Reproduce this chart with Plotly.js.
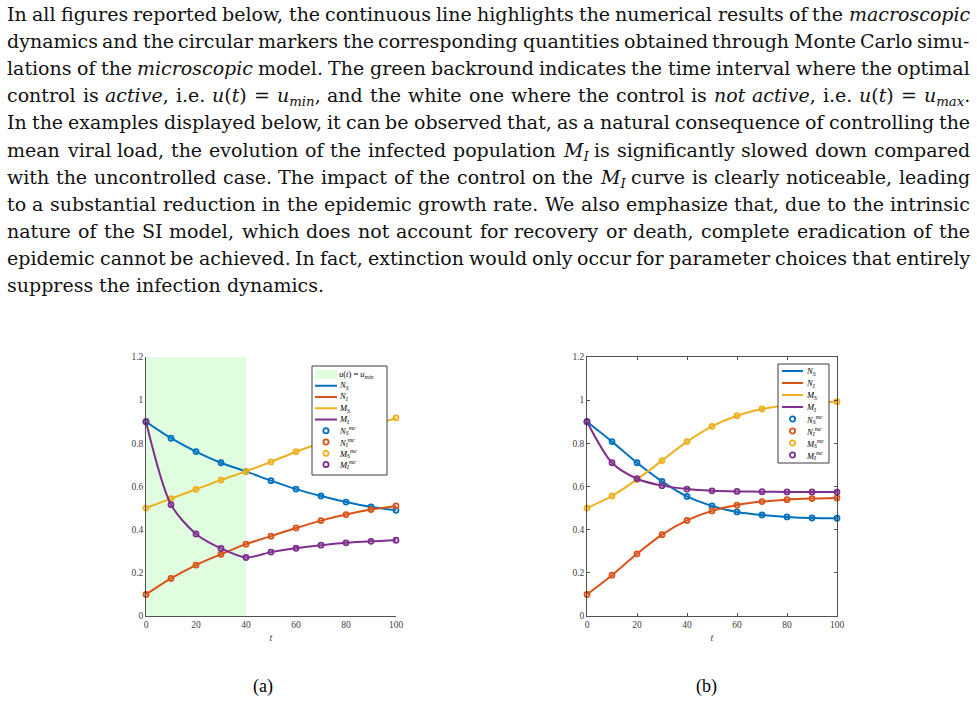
<!DOCTYPE html>
<html><head><meta charset="utf-8">
<script src="https://cdn.plot.ly/plotly-3.0.1.min.js"></script>
<style>html,body{margin:0;padding:0;background:#fff;} #chart{width:977px;height:701px;}</style>
</head><body><div id="chart"></div>
<script>
// ---------------- data ----------------
const t = [0, 10, 20, 30, 40, 50, 60, 70, 80, 90, 100];
// panel (a): controlled case
const aNS = [0.900, 0.824, 0.762, 0.710, 0.670, 0.627, 0.588, 0.556, 0.528, 0.505, 0.490];
const aNI = [0.100, 0.174, 0.236, 0.286, 0.333, 0.370, 0.408, 0.442, 0.470, 0.493, 0.510];
const aMS = [0.500, 0.544, 0.587, 0.630, 0.670, 0.714, 0.761, 0.803, 0.843, 0.881, 0.918];
const aMI = [0.900, 0.516, 0.380, 0.313, 0.271, 0.296, 0.314, 0.328, 0.339, 0.346, 0.351];
// panel (b)
const bNS = [0.900, 0.808, 0.710, 0.624, 0.554, 0.510, 0.482, 0.468, 0.459, 0.454, 0.453];
const bNI = [0.100, 0.189, 0.288, 0.377, 0.443, 0.487, 0.514, 0.530, 0.539, 0.544, 0.547];
const bMS = [0.500, 0.556, 0.633, 0.720, 0.808, 0.879, 0.928, 0.959, 0.978, 0.988, 0.993];
const bMI = [0.900, 0.710, 0.636, 0.604, 0.588, 0.580, 0.577, 0.576, 0.575, 0.575, 0.574];
const controlActive = [0, 40];           // interval where u(t) = u_min in (a)
const xTicks = [0, 20, 40, 60, 80, 100];
const yTicks = [0, 0.2, 0.4, 0.6, 0.8, 1, 1.2];
const yTickText = ['0', '0.2', '0.4', '0.6', '0.8', '1', '1.2'];
const lineLabels = ['<i>N<sub>S</sub></i>', '<i>N<sub>I</sub></i>', '<i>M<sub>S</sub></i>', '<i>M<sub>I</sub></i>'];
const mcLabels = ['<i>N<sub>S</sub><sup>mc</sup></i>', '<i>N<sub>I</sub><sup>mc</sup></i>', '<i>M<sub>S</sub><sup>mc</sup></i>', '<i>M<sub>I</sub><sup>mc</sup></i>'];
const patchLabel = '<i>u</i>(<i>t</i>) = <i>u<sub>min</sub></i>';
const captions = ['(a)', '(b)'];
const paraLines = [
  'In all figures reported below, the continuous line highlights the numerical results of the <i>macroscopic</i>',
  'dynamics and the circular markers the corresponding quantities obtained through Monte Carlo simu-',
  'lations of the <i>microscopic</i> model. The green backround indicates the time interval where the optimal',
  'control is <i>active</i>, i.e. <i>u</i>(<i>t</i>) = <i>u<sub>min</sub></i>, and the white one where the control is <i>not</i> <i>active</i>, i.e. <i>u</i>(<i>t</i>) = <i>u<sub>max</sub></i>.',
  'In the examples displayed below, it can be observed that, as a natural consequence of controlling the',
  'mean viral load, the evolution of the infected population <i>M<sub>I</sub></i> is significantly slowed down compared',
  'with the uncontrolled case. The impact of the control on the <i>M<sub>I</sub></i> curve is clearly noticeable, leading',
  'to a substantial reduction in the epidemic growth rate. We also emphasize that, due to the intrinsic',
  'nature of the SI model, which does not account for recovery or death, complete eradication of the',
  'epidemic cannot be achieved. In fact, extinction would only occur for parameter choices that entirely',
  'suppress the infection dynamics.'
];
const colors = ['#0072BD', '#D95319', '#EDB120', '#7E2F8E'];

// ---------------- helpers ----------------
const W = 977, H = 701;
const px = v => v / W;
const py = v => 1 - v / H;
const SERIF = 'Liberation Serif';
const PARA_FONT = 'DejaVu Serif';
const PARA_SIZE = 19;
const PARA_ASCENT = 0.93;
const ctx = document.createElement('canvas').getContext('2d');
function measure(tok, size, fam) {
  let w = 0, italic = false, small = false;
  for (const p of tok.split(/(<\/?(?:i|sub|sup)>)/)) {
    if (!p) continue;
    if (p === '<i>') { italic = true; continue; }
    if (p === '</i>') { italic = false; continue; }
    if (p === '<sub>' || p === '<sup>') { small = true; continue; }
    if (p === '</sub>' || p === '</sup>') { small = false; continue; }
    ctx.font = (italic ? 'italic ' : '') + (small ? size * 0.7 : size) + 'px "' + fam + '"';
    w += ctx.measureText(p).width;
  }
  return w;
}

const annotations = [];
const shapes = [];

// paragraph (justified, one annotation per word)
const LEFT = 7, RIGHT = 970, BASE0 = 20.7, LEAD = 27.1;
ctx.font = PARA_SIZE + 'px "' + PARA_FONT + '"';
const spaceW = ctx.measureText(' ').width;
paraLines.forEach((line, li) => {
  const words = line.split(' ');
  const widths = words.map(w => measure(w, PARA_SIZE, PARA_FONT));
  const total = widths.reduce((a, b) => a + b, 0);
  const justify = li < paraLines.length - 1;
  const gap = justify ? (RIGHT - LEFT - total) / (words.length - 1) : spaceW;
  const top = BASE0 + LEAD * li - PARA_ASCENT * PARA_SIZE;
  let x = LEFT;
  words.forEach((w, i) => {
    annotations.push({text: w, x: px(x), y: py(top), xref: 'paper', yref: 'paper',
      xanchor: 'left', yanchor: 'top', showarrow: false, borderpad: 0, borderwidth: 0,
      font: {family: PARA_FONT, size: PARA_SIZE, color: '#111'}});
    x += widths[i] + gap;
  });
});

// captions
[[263, 686], [706, 686]].forEach((p, i) => {
  annotations.push({text: captions[i], x: px(p[0]), y: py(p[1]), xref: 'paper', yref: 'paper',
    xanchor: 'center', yanchor: 'middle', showarrow: false, font: {family: SERIF, size: 18, color: '#000'}});
});

// in-plot legends
function buildLegend(box, row0, rowStep, sx0, sx1, tx, entries) {
  shapes.push({type: 'rect', xref: 'paper', yref: 'paper', x0: px(box[0]), x1: px(box[1]),
    y0: py(box[3]), y1: py(box[2]), fillcolor: '#fff', line: {color: '#262626', width: 0.9}, layer: 'above'});
  entries.forEach((e, i) => {
    const yc = row0 + rowStep * i;
    const cx = (sx0 + sx1) / 2;
    if (e.kind === 'patch') {
      shapes.push({type: 'rect', xref: 'paper', yref: 'paper', x0: px(sx0), x1: px(sx1),
        y0: py(yc + 4.5), y1: py(yc - 4.5), fillcolor: 'rgb(224,253,224)', line: {width: 0}, layer: 'above'});
    } else if (e.kind === 'line') {
      shapes.push({type: 'line', xref: 'paper', yref: 'paper', x0: px(sx0), x1: px(sx1),
        y0: py(yc), y1: py(yc), line: {color: e.color, width: 2}, layer: 'above'});
    } else {
      shapes.push({type: 'circle', xref: 'paper', yref: 'paper', x0: px(cx - 2.6), x1: px(cx + 2.6),
        y0: py(yc + 2.6), y1: py(yc - 2.6), fillcolor: 'rgba(255,255,255,0)', line: {color: e.color, width: 1.8}, layer: 'above'});
    }
    annotations.push({text: e.label, x: px(tx), y: py(yc), xref: 'paper', yref: 'paper',
      xanchor: 'left', yanchor: 'middle', showarrow: false, borderpad: 0, borderwidth: 0,
      font: {family: SERIF, size: 8.5, color: '#000'}});
  });
}
const lineEntries = lineLabels.map((l, i) => ({kind: 'line', label: l, color: colors[i]}));
const mcEntries = mcLabels.map((l, i) => ({kind: 'marker', label: l, color: colors[i]}));
buildLegend([312, 387, 366, 475], 374.5, 11.25, 315, 337, 339,
  [{kind: 'patch', label: patchLabel}].concat(lineEntries, mcEntries));
buildLegend([778, 829, 364, 463], 371, 12, 782, 803, 806, lineEntries.concat(mcEntries));

// control patch (panel a)
shapes.push({type: 'rect', xref: 'x', yref: 'y', x0: controlActive[0], x1: controlActive[1], y0: 0, y1: 1.2,
  fillcolor: 'rgb(224,253,224)', line: {width: 0}, layer: 'below'});

// traces
function series(y, color, xa, ya) {
  return {x: t, y: y, xaxis: xa, yaxis: ya, type: 'scatter', mode: 'lines+markers',
    line: {color: color, width: 2, shape: 'spline', smoothing: 0.8},
    marker: {symbol: 'circle-open', size: 5, color: color, line: {width: 1.8, color: color}},
    cliponaxis: false, showlegend: false, hoverinfo: 'skip'};
}
const data = [
  series(aNS, colors[0], 'x', 'y'), series(aNI, colors[1], 'x', 'y'),
  series(aMS, colors[2], 'x', 'y'), series(aMI, colors[3], 'x', 'y'),
  series(bNS, colors[0], 'x2', 'y2'), series(bNI, colors[1], 'x2', 'y2'),
  series(bMS, colors[2], 'x2', 'y2'), series(bMI, colors[3], 'x2', 'y2')
];

const tickFont = {family: SERIF, size: 9.5, color: '#404040'};
const yDom = [85 / H, 344 / H];
function xAxis(domain, anchor, boxed) {
  return {domain: domain, anchor: anchor, range: [0, 100], tickvals: xTicks, showgrid: false, zeroline: false,
    showline: true, linecolor: '#262626', linewidth: 0.8, mirror: boxed ? 'ticks' : false,
    ticks: boxed ? 'inside' : '', ticklen: 3, tickwidth: 0.8, tickcolor: '#262626', tickfont: tickFont,
    title: {text: '<i>t</i>', font: {family: SERIF, size: 10, color: '#404040'}, standoff: 4}};
}
function yAxis(anchor, boxed) {
  return {domain: yDom, anchor: anchor, range: [0, 1.2], tickvals: yTicks, ticktext: yTickText,
    showgrid: false, zeroline: false, showline: true, linecolor: '#262626', linewidth: 0.8,
    mirror: boxed ? 'ticks' : false, ticks: boxed ? 'inside' : '', ticklen: 3, tickwidth: 0.8,
    tickcolor: '#262626', tickfont: tickFont};
}
const layout = {
  width: W, height: H, margin: {l: 0, r: 0, t: 0, b: 0},
  paper_bgcolor: '#fff', plot_bgcolor: '#fff', showlegend: false,
  xaxis: xAxis([146 / W, 396 / W], 'y', false),
  yaxis: yAxis('x', false),
  xaxis2: xAxis([587 / W, 837 / W], 'y2', true),
  yaxis2: yAxis('x2', true),
  shapes: shapes, annotations: annotations
};
Plotly.newPlot('chart', data, layout, {displayModeBar: false, staticPlot: true});
</script></body></html>
